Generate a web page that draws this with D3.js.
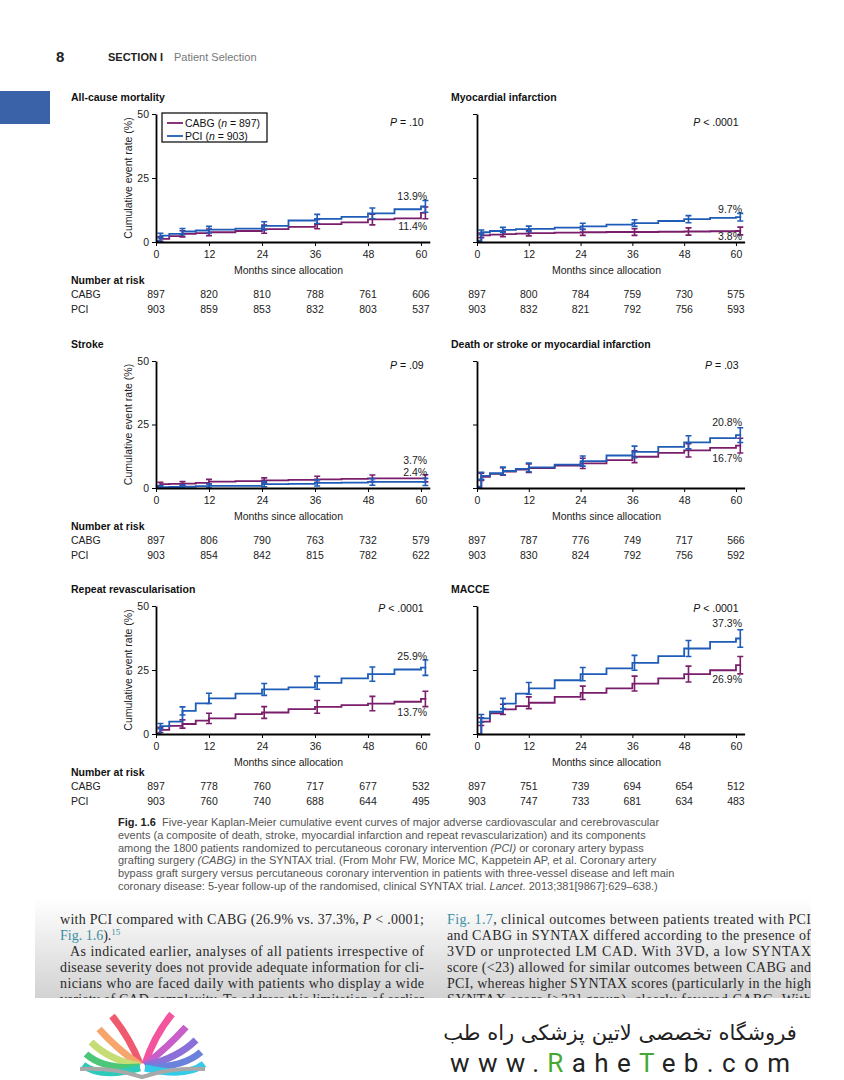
<!DOCTYPE html>
<html lang="en">
<head>
<meta charset="UTF-8">
<title>Fig. 1.6 SYNTAX 5-year Kaplan-Meier curves</title>
<script src="https://d3js.org/d3.v7.min.js"></script>
<style>
  body { margin: 0; background: #fff; }
  svg { display: block; font-family: "Liberation Sans", Arial, sans-serif; }
</style>
</head>
<body>
<svg width="844" height="1080"></svg>
<script>
  const months = [0, 1, 3, 6, 9, 12, 18, 24, 30, 36, 42, 48, 54, 60];

  const mortCABG   = [0.3, 1.2, 2.3, 3.2, 3.5, 3.8, 4.3, 5.0, 5.9, 7.0, 7.7, 8.8, 9.2, 11.4];
  const mortPCI    = [0.5, 2.5, 3.2, 4.1, 4.5, 4.8, 5.2, 6.3, 8.4, 9.0, 9.8, 11.2, 12.8, 13.9];
  const miCABG     = [0.3, 2.6, 2.9, 3.1, 3.3, 3.5, 3.7, 3.8, 3.9, 3.9, 4.0, 4.1, 4.2, 4.3];
  const miPCI      = [0.5, 3.8, 4.3, 4.7, 5.0, 5.1, 5.6, 6.1, 6.8, 7.4, 8.2, 8.9, 9.4, 9.7];
  const strokeCABG = [0.6, 1.5, 1.6, 1.7, 2.0, 2.5, 2.7, 3.0, 3.2, 3.4, 3.6, 3.8, 3.8, 3.8];
  const strokePCI  = [0.0, 0.3, 0.4, 0.5, 0.7, 0.8, 0.8, 1.5, 1.6, 2.0, 2.1, 2.4, 2.4, 2.4];
  const dsmCABG    = [0.3, 4.4, 5.6, 6.5, 7.2, 7.8, 8.8, 9.7, 11.0, 12.3, 13.8, 14.8, 15.8, 16.7];
  const dsmPCI     = [0.5, 4.8, 5.8, 6.7, 7.5, 8.1, 9.2, 10.6, 12.8, 14.2, 16.2, 18.0, 19.6, 20.8];
  const revCABG    = [0.0, 1.6, 3.2, 3.9, 5.2, 6.1, 7.8, 8.4, 9.7, 10.6, 11.3, 11.9, 12.6, 13.7];
  const revPCI     = [0.0, 3.1, 4.8, 9.0, 12.0, 13.9, 15.8, 17.4, 18.2, 20.0, 21.7, 23.4, 25.2, 25.9];
  const macCABG    = [0.0, 4.8, 8.1, 9.6, 10.9, 12.2, 14.5, 16.1, 17.8, 19.7, 21.7, 23.4, 24.9, 26.9];
  const macPCI     = [0.0, 6.1, 8.7, 11.9, 15.8, 17.8, 21.0, 23.4, 25.6, 27.8, 30.4, 33.4, 36.0, 37.3];

  // error bars (95% CI half widths, %)
  const errMonths = [1, 6, 12, 24.5, 36.5, 49, 61];
  const ciMort   = [0.9, 1.2, 1.3, 1.6, 1.8, 2.1, 2.3];
  const ciMI     = [0.9, 1.0, 1.1, 1.2, 1.3, 1.4, 1.5];
  const ciStroke = [0.7, 0.8, 0.9, 1.0, 1.2, 1.3, 1.4];
  const ciDSM    = [1.4, 1.5, 1.7, 2.0, 2.3, 2.6, 2.9];
  const ciRev    = [1.0, 1.6, 2.0, 2.3, 2.5, 2.8, 3.0];
  const ciMACCE  = [1.5, 2.0, 2.3, 2.6, 2.9, 3.1, 3.4];

  const riskTicks = [0, 12, 24, 36, 48, 60];
  const riskMort   = [[897, 820, 810, 788, 761, 606], [903, 859, 853, 832, 803, 537]];
  const riskMI     = [[897, 800, 784, 759, 730, 575], [903, 832, 821, 792, 756, 593]];
  const riskStroke = [[897, 806, 790, 763, 732, 579], [903, 854, 842, 815, 782, 622]];
  const riskDSM    = [[897, 787, 776, 749, 717, 566], [903, 830, 824, 792, 756, 592]];
  const riskRev    = [[897, 778, 760, 717, 677, 532], [903, 760, 740, 688, 644, 495]];
  const riskMACCE  = [[897, 751, 739, 694, 654, 512], [903, 747, 733, 681, 634, 483]];

  const titles = ["All-cause mortality", "Myocardial infarction", "Stroke",
                  "Death or stroke or myocardial infarction", "Repeat revascularisation", "MACCE"];
  const pValues = ["= .10", "< .0001", "= .09", "= .03", "< .0001", "< .0001"];
  const endLabels = [["11.4%", "13.9%"], ["3.8%", "9.7%"], ["3.7%", "2.4%"],
                     ["16.7%", "20.8%"], ["13.7%", "25.9%"], ["26.9%", "37.3%"]];
  const yTicks = [0, 25, 50];
  const groups = ["CABG", "PCI"];
  const groupN = [897, 903];

  const cabgColor = "#7a1d6b";
  const pciColor = "#1f5cb8";

  const panels = [
    { cabg: mortCABG, pci: mortPCI, ci: ciMort, risk: riskMort, dy: [17, -6] },
    { cabg: miCABG, pci: miPCI, ci: ciMI, risk: riskMI, dy: [9, -4] },
    { cabg: strokeCABG, pci: strokePCI, ci: ciStroke, risk: riskStroke, dy: [-14, -6] },
    { cabg: dsmCABG, pci: dsmPCI, ci: ciDSM, risk: riskDSM, dy: [16, -9] },
    { cabg: revCABG, pci: revPCI, ci: ciRev, risk: riskRev, dy: [17, -8] },
    { cabg: macCABG, pci: macPCI, ci: ciMACCE, risk: riskMACCE, dy: [18, -12] }
  ];
  const rows = [{ top: 114, base: 242, pDy: 12 }, { top: 361, base: 488, pDy: 8 }, { top: 606, base: 734, pDy: 6 }];
  const cols = [{ x0: 156, x62: 429.8, titleX: 71 }, { x0: 477, x62: 744.6, titleX: 451 }];

  const svg = d3.select("svg");

  // page header
  svg.append("rect").attr("x", 0).attr("y", 91).attr("width", 50).attr("height", 33).attr("fill", "#3a62a8");
  svg.append("text").attr("x", 56).attr("y", 62).attr("font-size", 15).attr("font-weight", "bold").attr("fill", "#222").text("8");
  svg.append("text").attr("x", 108).attr("y", 61).attr("font-size", 11).attr("font-weight", "bold").attr("fill", "#222").text("SECTION I");
  svg.append("text").attr("x", 174).attr("y", 61).attr("font-size", 11).attr("fill", "#777").text("Patient Selection");

  function valueAt(vals, m) {
    let v = vals[0];
    months.forEach((mm, k) => { if (mm <= m) v = vals[k]; });
    return v;
  }

  panels.forEach((p, i) => {
    const r = rows[Math.floor(i / 2)];
    const c = cols[i % 2];
    const isLeft = i % 2 === 0;
    const x = d3.scaleLinear().domain([0, 62]).range([c.x0, c.x62]);
    const y = d3.scaleLinear().domain([0, 50]).range([r.base, r.top]);
    const g = svg.append("g");

    g.append("text").attr("x", c.titleX).attr("y", r.top - 13)
      .attr("font-size", 10.5).attr("font-weight", "bold").attr("fill", "#111").text(titles[i]);

    // curves + error bars
    const line = d3.line().x(d => x(d[0])).y(d => y(d[1])).curve(d3.curveStepAfter);
    [[p.cabg, cabgColor], [p.pci, pciColor]].forEach(([vals, col]) => {
      const pts = months.map((m, k) => [m, vals[k]]);
      pts.push([61.2, vals[vals.length - 1]]);
      g.append("path").attr("d", line(pts)).attr("fill", "none")
        .attr("stroke", col).attr("stroke-width", 1.8);
      errMonths.forEach((m, k) => {
        const v = valueAt(vals, m);
        const lo = y(Math.max(0, v - p.ci[k])), hi = y(v + p.ci[k]), xm = x(m);
        g.append("path")
          .attr("d", `M${xm},${lo}V${hi}M${xm - 3},${lo}H${xm + 3}M${xm - 3},${hi}H${xm + 3}`)
          .attr("fill", "none").attr("stroke", col).attr("stroke-width", 1.6);
      });
    });

    // axes
    const xAxis = d3.axisBottom(x).tickValues(riskTicks).tickSize(4).tickSizeOuter(0).tickFormat(d3.format("d"));
    const gx = g.append("g").attr("transform", `translate(0,${r.base})`).call(xAxis);
    const yAxis = d3.axisLeft(y).tickValues(yTicks).tickSize(4).tickSizeOuter(0)
      .tickFormat(isLeft ? d3.format("d") : () => "");
    const gy = g.append("g").attr("transform", `translate(${c.x0},0)`).call(yAxis);
    [gx, gy].forEach(a => {
      a.select(".domain").attr("stroke", "#000").attr("stroke-width", 1.8);
      a.selectAll(".tick line").attr("stroke", "#000").attr("stroke-width", 1);
      a.selectAll("text").attr("font-size", 10.5).attr("fill", "#222")
        .attr("font-family", "Liberation Sans, Arial, sans-serif");
    });
    gx.selectAll("text").attr("dy", "0.9em");

    g.append("text").attr("x", (x(0) + x(60)) / 2).attr("y", r.base + 32)
      .attr("text-anchor", "middle").attr("font-size", 10.5).attr("fill", "#222")
      .text("Months since allocation");

    if (isLeft) {
      g.append("text")
        .attr("transform", `translate(131.5,${(r.top + r.base) / 2}) rotate(-90)`)
        .attr("text-anchor", "middle").attr("font-size", 10.5).attr("fill", "#222")
        .text("Cumulative event rate (%)");
    }

    // P value
    const pt = g.append("text").attr("x", x(60.6)).attr("y", r.top + r.pDy)
      .attr("text-anchor", "end").attr("font-size", 10.5).attr("fill", "#111");
    pt.append("tspan").attr("font-style", "italic").text("P");
    pt.append("tspan").text(" " + pValues[i]);

    // end labels
    [p.cabg, p.pci].forEach((vals, s) => {
      g.append("text").attr("x", x(61.4)).attr("y", y(vals[vals.length - 1]) + p.dy[s])
        .attr("text-anchor", "end").attr("font-size", 10.5).attr("fill", "#222")
        .text(endLabels[i][s]);
    });

    // number at risk
    if (isLeft) {
      g.append("text").attr("x", 71).attr("y", r.base + 42).attr("font-size", 10.5)
        .attr("font-weight", "bold").attr("fill", "#111").text("Number at risk");
      groups.forEach((name, s) => {
        g.append("text").attr("x", 71).attr("y", r.base + 56 + s * 15).attr("font-size", 10.5)
          .attr("fill", "#222").text(name);
      });
    }
    p.risk.forEach((vals, s) => {
      g.selectAll(null).data(vals).enter().append("text")
        .attr("x", (d, k) => x(riskTicks[k]))
        .attr("y", r.base + 56 + s * 15)
        .attr("text-anchor", "middle").attr("font-size", 10.5).attr("fill", "#222")
        .text(d => d);
    });

    // legend (first panel only)
    if (i === 0) {
      g.append("rect").attr("x", 162).attr("y", 113).attr("width", 105).attr("height", 29)
        .attr("fill", "#fff").attr("stroke", "#000").attr("stroke-width", 1.2);
      groups.forEach((name, s) => {
        const ly = 123 + s * 13;
        g.append("line").attr("x1", 167).attr("x2", 183).attr("y1", ly).attr("y2", ly)
          .attr("stroke", s === 0 ? cabgColor : pciColor).attr("stroke-width", 1.8);
        const t = g.append("text").attr("x", 185).attr("y", ly + 4).attr("font-size", 10.5).attr("fill", "#111");
        t.append("tspan").text(name + " (");
        t.append("tspan").attr("font-style", "italic").text("n");
        t.append("tspan").text(" = " + groupN[s] + ")");
      });
    }
  });

  // caption
  const captionLines = [
    [["b", "Fig. 1.6"], ["", "  Five-year Kaplan-Meier cumulative event curves of major adverse cardiovascular and cerebrovascular"]],
    [["", "events (a composite of death, stroke, myocardial infarction and repeat revascularization) and its components"]],
    [["", "among the 1800 patients randomized to percutaneous coronary intervention "], ["i", "(PCI)"], ["", " or coronary artery bypass"]],
    [["", "grafting surgery "], ["i", "(CABG)"], ["", " in the SYNTAX trial. (From Mohr FW, Morice MC, Kappetein AP, et al. Coronary artery"]],
    [["", "bypass graft surgery versus percutaneous coronary intervention in patients with three-vessel disease and left main"]],
    [["", "coronary disease: 5-year follow-up of the randomised, clinical SYNTAX trial. "], ["i", "Lancet"], ["", ". 2013;381[9867]:629\u2013638.)"]]
  ];
  captionLines.forEach((parts, k) => {
    const t = svg.append("text").attr("x", 118).attr("y", 826 + k * 12.8)
      .attr("font-size", 11).attr("fill", "#555").attr("xml:space", "preserve");
    parts.forEach(([st, s]) => {
      const ts = t.append("tspan").text(s);
      if (st === "b") ts.attr("font-weight", "bold").attr("fill", "#222");
      if (st === "i") ts.attr("font-style", "italic");
    });
  });

  // body text block with faded background
  const defs = svg.append("defs");
  const grad = defs.append("linearGradient").attr("id", "fade").attr("x1", 0).attr("y1", 0).attr("x2", 0).attr("y2", 1);
  grad.append("stop").attr("offset", "0%").attr("stop-color", "#ffffff");
  grad.append("stop").attr("offset", "100%").attr("stop-color", "#d2d2d2");
  defs.append("clipPath").attr("id", "bodyclip").append("rect")
    .attr("x", 35).attr("y", 898).attr("width", 776).attr("height", 100);
  svg.append("rect").attr("x", 35).attr("y", 898).attr("width", 776).attr("height", 100).attr("fill", "url(#fade)");

  const bodyLeft = [
    { j: true, parts: [["", "with PCI compared with CABG (26.9% vs. 37.3%, "], ["i", "P"], ["", " < .0001;"]] },
    { j: false, parts: [["c", "Fig. 1.6"], ["", ")."], ["s", "15"]] },
    { j: true, indent: 10, parts: [["", "As indicated earlier, analyses of all patients irrespective of"]] },
    { j: true, parts: [["", "disease severity does not provide adequate information for cli-"]] },
    { j: true, parts: [["", "nicians who are faced daily with patients who display a wide"]] },
    { j: true, parts: [["", "variety of CAD complexity. To address this limitation of earlier"]] }
  ];
  const bodyRight = [
    { j: true, parts: [["c", "Fig. 1.7"], ["", ", clinical outcomes between patients treated with PCI"]] },
    { j: true, parts: [["", "and CABG in SYNTAX differed according to the presence of"]] },
    { j: true, parts: [["", "3VD or unprotected LM CAD. With 3VD, a low SYNTAX"]] },
    { j: true, parts: [["", "score (<23) allowed for similar outcomes between CABG and"]] },
    { j: true, parts: [["", "PCI, whereas higher SYNTAX scores (particularly in the high"]] },
    { j: true, parts: [["", "SYNTAX score [>32] group), clearly favored CABG. With"]] }
  ];
  const bodyG = svg.append("g").attr("clip-path", "url(#bodyclip)");
  [[bodyLeft, 60], [bodyRight, 447]].forEach(([lines, x0]) => {
    lines.forEach((ln, k) => {
      const ind = ln.indent || 0;
      const t = bodyG.append("text").attr("x", x0 + ind).attr("y", 924 + k * 16)
        .attr("font-family", "Liberation Serif, Times New Roman, serif")
        .attr("font-size", 14).attr("fill", "#2a2a2a");
      if (ln.j) t.attr("textLength", 364 - ind).attr("lengthAdjust", "spacing");
      ln.parts.forEach(([st, s]) => {
        const ts = t.append("tspan").text(s);
        if (st === "i") ts.attr("font-style", "italic");
        if (st === "c") ts.attr("fill", "#3a8fa3");
        if (st === "s") ts.attr("fill", "#3a8fa3").attr("font-size", 9).attr("dy", -5);
      });
    });
  });

  // footer logo: open book with colored pages
  const logo = svg.append("g");
  const leftPages = [[112, 1016, "#ef5a6f"], [99, 1029, "#f6a66c"], [91, 1042, "#c6dc75"], [86, 1054, "#4cc777"], [83, 1065, "#2ccabb"]];
  const rightPages = [[172, 1014, "#f2559e"], [186, 1027, "#c75ec9"], [196, 1040, "#8a70d8"], [201, 1052, "#6a82dc"], [204, 1064, "#35cbe8"]];
  leftPages.forEach(([tx, ty, col], k) => {
    logo.append("path")
      .attr("d", `M140,${1064 + k}Q${tx + 18},${ty + 22 - k * 2} ${tx},${ty}`)
      .attr("fill", "none").attr("stroke", col).attr("stroke-width", 7);
  });
  rightPages.forEach(([tx, ty, col], k) => {
    logo.append("path")
      .attr("d", `M145,${1064 + k}Q${tx - 18},${ty + 22 - k * 2} ${tx},${ty}`)
      .attr("fill", "none").attr("stroke", col).attr("stroke-width", 7);
  });
  logo.append("path").attr("d", "M80,1069Q112,1067 142,1077Q172,1067 205,1069")
    .attr("fill", "none").attr("stroke", "#a8a8a8").attr("stroke-width", 4);

  svg.append("text").attr("x", 620).attr("y", 1040).attr("text-anchor", "middle")
    .attr("font-family", "DejaVu Sans, sans-serif").attr("font-size", 21).attr("fill", "#222")
    .text("فروشگاه تخصصی لاتین پزشکی  راه طب");

  const site = svg.append("text").attr("x", 450).attr("y", 1072)
    .attr("font-family", "Roboto, DejaVu Sans, sans-serif").attr("font-size", 26).attr("fill", "#222")
    .attr("textLength", 340).attr("lengthAdjust", "spacing");
  [["www.", "#222"], ["R", "#44a832"], ["ahe", "#222"], ["T", "#44a832"], ["eb.com", "#222"]].forEach(([s, col]) => {
    site.append("tspan").attr("fill", col).text(s);
  });
</script>
</body>
</html>
